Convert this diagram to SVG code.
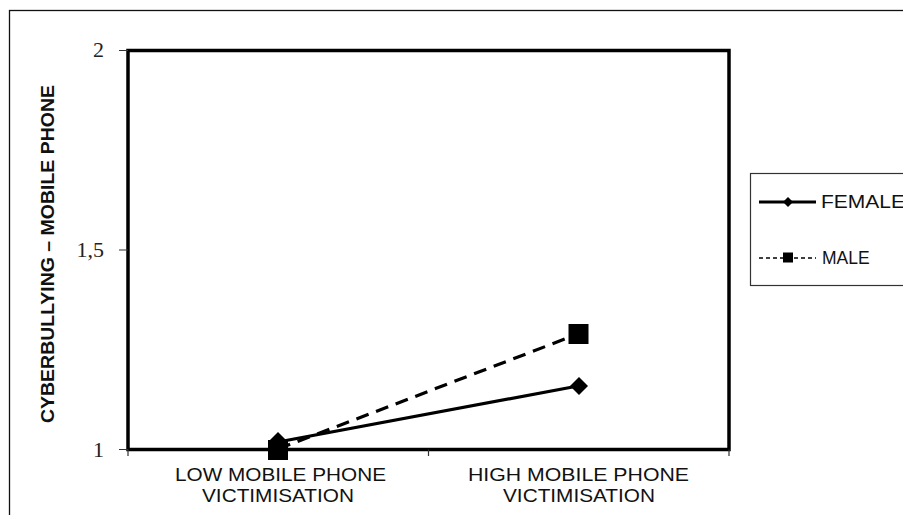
<svg xmlns="http://www.w3.org/2000/svg" width="903" height="515" viewBox="0 0 903 515">
<style>
.tick{stroke:#333;stroke-width:1.2;fill:none}
.ynum{font-family:"Liberation Serif",serif;font-size:22px;fill:#222;text-anchor:end}
.xlab{font-family:"Liberation Sans",Arial,sans-serif;font-size:18px;fill:#111;text-anchor:middle}
.leg{font-family:"Liberation Sans",Arial,sans-serif;font-size:17.5px;fill:#111}
</style>
<rect x="0" y="0" width="903" height="515" fill="#fff"/>
<rect x="9.5" y="10.5" width="1000" height="600" fill="none" stroke="#111" stroke-width="1.3"/>
<g id="plot">
<rect x="128" y="50.5" width="601" height="399" fill="none" stroke="#000" stroke-width="3.5"/>
<path class="tick" d="M119 50.5H128M119 250H128M119 449.5H128M128 449.5V456M428.5 449.5V456M729 449.5V456"/>
<text class="ynum" x="104" y="57">2</text>
<text class="ynum" x="104" y="257">1,5</text>
<text class="ynum" x="104" y="457">1</text>
<text id="ytitle" transform="translate(54,254) rotate(-90)" font-family="Liberation Sans,Arial,sans-serif" font-weight="bold" font-size="17.5" text-anchor="middle" textLength="338" lengthAdjust="spacingAndGlyphs" fill="#111">CYBERBULLYING – MOBILE PHONE</text>
<text class="xlab" x="280.5" y="481" textLength="211" lengthAdjust="spacingAndGlyphs">LOW MOBILE PHONE</text>
<text class="xlab" x="278" y="502" textLength="152" lengthAdjust="spacingAndGlyphs">VICTIMISATION</text>
<text class="xlab" x="578.5" y="481" textLength="221" lengthAdjust="spacingAndGlyphs">HIGH MOBILE PHONE</text>
<text class="xlab" x="579" y="502" textLength="152" lengthAdjust="spacingAndGlyphs">VICTIMISATION</text>
</g>
<g id="connectors">
<line id="male-line" x1="278" y1="449" x2="578" y2="334" stroke="#000" stroke-width="3.2" stroke-dasharray="13 8"/>
<line id="female-line" x1="278" y1="442" x2="578" y2="386" stroke="#000" stroke-width="3.2"/>
</g>
<g id="male-low"><rect x="268" y="440" width="20" height="20" fill="#000"/></g>
<g id="female-low"><polygon points="278,432 288,442 278,452 268,442" fill="#000"/></g>
<g id="male-high"><rect x="568.5" y="324" width="20" height="20" fill="#000"/></g>
<g id="female-high"><polygon points="579,377 588,386 579,395 570,386" fill="#000"/></g>
<g id="legend">
<rect x="750.5" y="173.5" width="300" height="112" fill="none" stroke="#333" stroke-width="1.2"/>
<line x1="759" y1="202" x2="816" y2="202" stroke="#000" stroke-width="3"/>
<polygon points="788,197 793,202 788,207 783,202" fill="#000"/>
<text class="leg" x="821" y="208" textLength="84" lengthAdjust="spacingAndGlyphs">FEMALE</text>
<line x1="759" y1="258" x2="816" y2="258" stroke="#000" stroke-width="1.5" stroke-dasharray="4 3"/>
<rect x="783" y="252.5" width="10" height="10" fill="#000"/>
<text class="leg" x="822" y="264">MALE</text>
</g>
</svg>
